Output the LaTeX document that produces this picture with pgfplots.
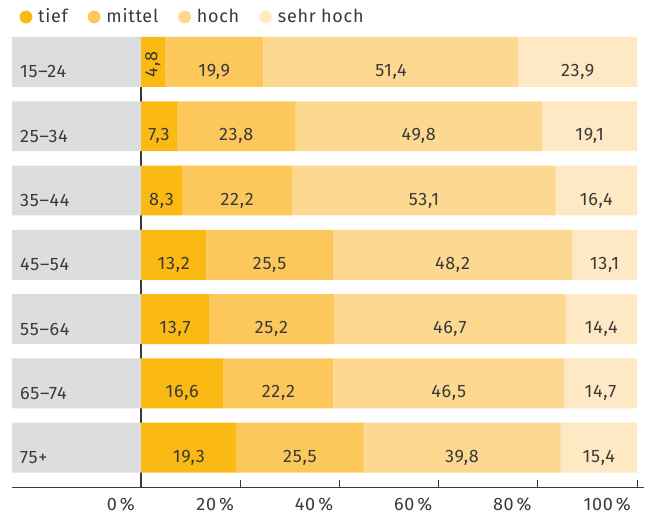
\documentclass[border=0pt]{standalone}
\usepackage{pgfplots}
\pgfplotsset{compat=1.18}
\usepackage{pgfplotstable}
\usepackage{fontspec}
\setmainfont{Fira Sans}[LetterSpace=4]
\definecolor{cTief}{HTML}{FBB913}
\definecolor{cMittel}{HTML}{FDC85B}
\definecolor{cHoch}{HTML}{FDD891}
\definecolor{cSehr}{HTML}{FEE9C4}
\definecolor{cGrey}{HTML}{DCDDDF}
\definecolor{cText}{HTML}{3A3A3A}
\pgfplotstableread{
y grey tief mittel hoch sehr rot dy
7 26 4.8 19.9 51.4 23.9 90 -2
6 26 7.3 23.8 49.8 19.1 0 -7.5
5 26 8.3 22.2 53.1 16.4 0 -7.5
4 26 13.2 25.5 48.2 13.1 0 -7.5
3 26 13.7 25.2 46.7 14.4 0 -7.5
2 26 16.6 22.2 46.5 14.7 0 -7.5
1 26 19.3 25.5 39.8 15.4 0 -7.5
}\data
\begin{document}
\fontsize{13.5}{15}\selectfont
\begin{tikzpicture}
\begin{axis}[
  scale only axis, width=474.75pt, height=338.25pt,
  axis on top,
  xbar stacked, bar width=37.5pt,
  xmin=0, xmax=127.5, ymin=0.378, ymax=7.389,
  axis x line*=bottom, axis y line*=left,
  x axis line style={-, draw=cText, line width=0.8pt},
  y axis line style={draw=none},
  ytick={1,...,7},
  yticklabels={75+,65--74,55--64,45--54,35--44,25--34,15--24},
  ytick style={draw=none},
  yticklabel style={anchor=west, xshift=1.5pt, yshift=-7.5pt, text=cText},
  xtick={26,46,66,86,106,126},
  xticklabels={0\,\%,20\,\%,40\,\%,60\,\%,80\,\%,100\,\%},
  xticklabel style={anchor=north east, yshift=-3pt, text=cText},
  xtick align=inside, major tick length=6pt,
  xtick style={draw=cText, line width=0.8pt},
  /pgf/number format/use comma,
  /pgf/number format/fixed,
  /pgf/number format/fixed zerofill,
  /pgf/number format/precision=1,
  /pgf/number format/assume math mode=true,
  nodes near coords style={text=cText, anchor=center},
  legend style={at={(axis description cs:0,1)}, anchor=south west, yshift=4.5pt, xshift=2.5pt,
    draw=none, fill=none, text=cText, legend columns=4,
    /tikz/every even column/.append style={column sep=13pt}},
  legend cell align=left,
  legend image code/.code={\fill[#1] (4.8pt,0) circle (4.8pt); \path (0,0) -- (12pt,0);},
]
\addplot[fill=cGrey, draw=none, forget plot] table[x=grey, y=y] {\data};
\addplot[fill=cTief, draw=none, nodes near coords, point meta=explicit,
  visualization depends on={\thisrow{rot} \as \rot},
  visualization depends on={\thisrow{dy} \as \dy},
  every node near coord/.append style={yshift=\dy pt, rotate=\rot}]
  table[x=tief, y=y, meta=tief] {\data};
\addplot[fill=cMittel, draw=none, nodes near coords, point meta=explicit,
  every node near coord/.append style={yshift=-7.5pt}]
  table[x=mittel, y=y, meta=mittel] {\data};
\addplot[fill=cHoch, draw=none, nodes near coords, point meta=explicit,
  every node near coord/.append style={yshift=-7.5pt}]
  table[x=hoch, y=y, meta=hoch] {\data};
\addplot[fill=cSehr, draw=none, nodes near coords, point meta=explicit,
  every node near coord/.append style={yshift=-7.5pt}]
  table[x=sehr, y=y, meta=sehr] {\data};
\legend{tief, mittel, hoch, sehr hoch}
\draw[cText, line width=0.8pt] (axis cs:26,7.389) -- (axis cs:26,0.378) -- ++(0,-7pt);
\path (axis description cs:0,0) ++(-9pt,-18.75pt) coordinate (bbA);
\path (axis description cs:1,1) ++(0pt,27.75pt) coordinate (bbB);
\end{axis}
\useasboundingbox (bbA) rectangle (bbB);
\end{tikzpicture}
\end{document}
